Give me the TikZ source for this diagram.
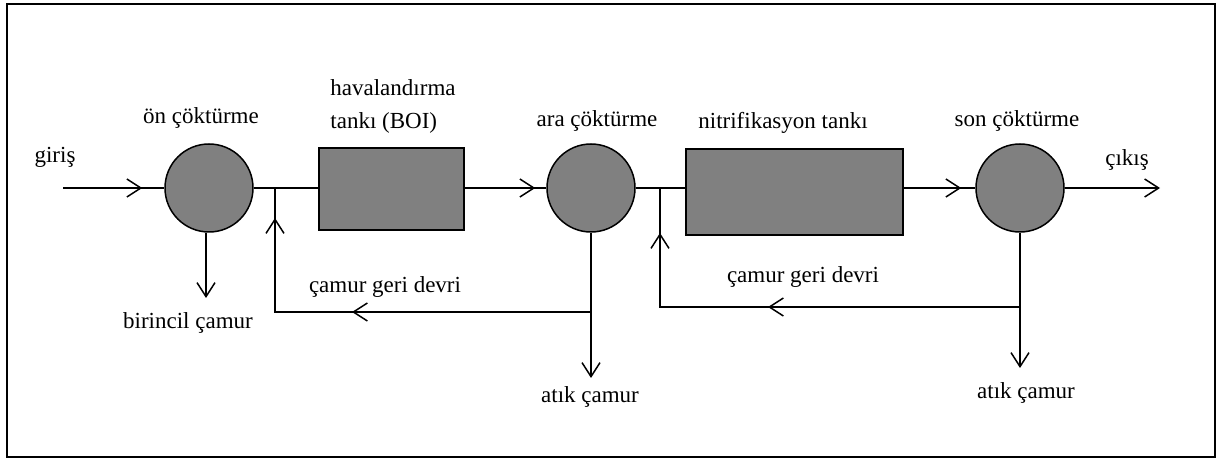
\documentclass[tikz,border=0pt]{standalone}
\usepackage{fontspec}
\setmainfont{Liberation Serif}
\usetikzlibrary{arrows.meta,decorations.markings}

\begin{document}
\begin{tikzpicture}[x=0.5pt,y=-0.5pt,
  every node/.style={font=\fontsize{11.5}{16.5}\selectfont},
  >={Straight Barb[length=7pt,width=9pt]},
  every path/.style={line width=0.75pt},
  tank/.style={circle,draw,fill=black!50,minimum size=44pt,inner sep=0pt},
  basin/.style={rectangle,draw,fill=black!50,inner sep=0pt},
  arrowat/.style={postaction={decorate},
    decoration={markings,mark=at position #1 with {\arrow{>}}}},
  backflow/.style 2 args={postaction={decorate},
    decoration={markings,mark=at position #1 with {\arrow{>}},
      mark=at position #2 with {\arrow{>}}}}]
  \useasboundingbox (0,0) rectangle (1220,459);
  \draw[line width=1.1pt] (7,4) rectangle (1215,457);

  \node[tank] (c1) at (209,188) {};
  \node[basin,minimum width=72.5pt,minimum height=41pt] (r1) at (391.5,189) {};
  \node[tank] (c2) at (591,188) {};
  \node[basin,minimum width=108.5pt,minimum height=43pt] (r2) at (794.5,192) {};
  \node[tank] (c3) at (1020,188) {};

  \coordinate (in) at (63,188);
  \coordinate (out) at (1160,188);
  \coordinate (j1) at (275,188);
  \coordinate (j2) at (660,188);
  \coordinate (k1) at (591,312);
  \coordinate (k2) at (1020,307);
  \coordinate (w1) at (206,298);
  \coordinate (w2) at (591,378);
  \coordinate (w3) at (1020,368);

  \node (giris) at (55,157) {giriş};
  \node (cikis) at (1127,160) {çıkış};
  \node (l1) at (201,118) {ön çöktürme};
  \node[align=left] (l2) at (393,106) {havalandırma\\tankı (BOI)};
  \node (l3) at (597,121) {ara çöktürme};
  \node (l4) at (783,123) {nitrifikasyon tankı};
  \node (l5) at (1017,121) {son çöktürme};
  \node (l6) at (188,323) {birincil çamur};
  \node (l7) at (385,287) {çamur geri devri};
  \node (l8) at (590,397) {atık çamur};
  \node (l9) at (803,277) {çamur geri devri};
  \node (l10) at (1026,393) {atık çamur};

  \draw[arrowat=-11pt] (in) -- (c1);
  \draw (c1) -- (c1 -| r1.west);
  \draw[arrowat=-5.5pt] (r1.east |- c2) -- (c2);
  \draw (c2) -- (c2 -| r2.west);
  \draw[arrowat=-7pt] (r2.east |- c3) -- (c3);
  \draw[->] (c3) -- (out);

  \draw[->] (c1.south -| w1) -- (w1);
  \draw[->] (c2.south) -- (w2);
  \draw[->] (c3.south) -- (w3);

  \draw[backflow={119.5pt}{205pt}] (k1) -| (j1);
  \draw[backflow={126pt}{217pt}] (k2) -| (j2);
\end{tikzpicture}
\end{document}
